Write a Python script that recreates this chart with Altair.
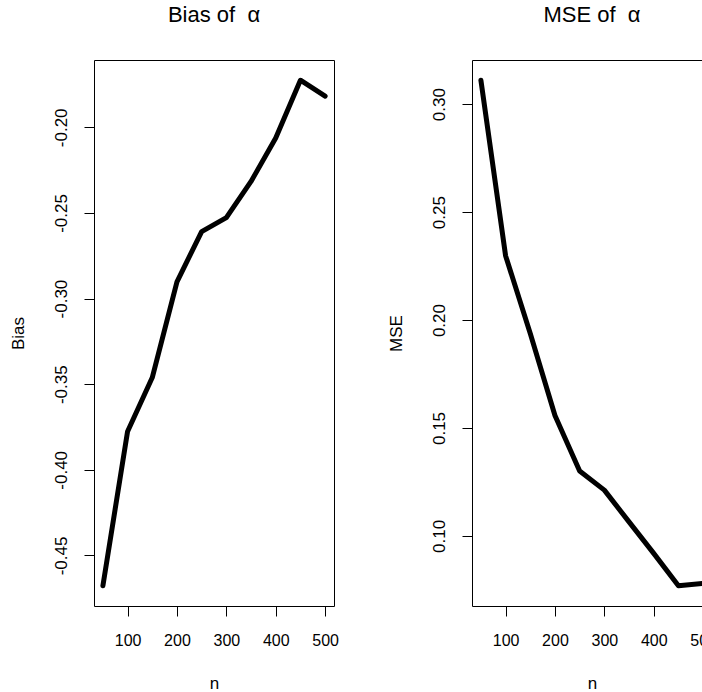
import altair as alt
import pandas as pd

# ---- data ----
n_values = [50, 100, 150, 200, 250, 300, 350, 400, 450, 500]
bias_values = [-0.4677, -0.3776, -0.3461, -0.2902, -0.2609, -0.2527, -0.2316, -0.2062, -0.1725, -0.1818]
mse_values = [0.3111, 0.2298, 0.1938, 0.1558, 0.1301, 0.1212, 0.1065, 0.0919, 0.0769, 0.0780]

x_ticks = [100, 200, 300, 400, 500]
bias_ticks = [-0.45, -0.40, -0.35, -0.30, -0.25, -0.20]
mse_ticks = [0.10, 0.15, 0.20, 0.25, 0.30]

FONT = "Liberation Sans"


def r_range(v):
    lo, hi = min(v), max(v)
    d = (hi - lo) * 0.04
    return [lo - d, hi + d]


df = pd.DataFrame({"n": n_values, "bias": bias_values, "mse": mse_values})


def panel(field, vals, title, ytitle, yticks):
    x = alt.X(
        "n:Q",
        scale=alt.Scale(domain=r_range(n_values), nice=False, zero=False),
        axis=alt.Axis(
            values=x_ticks, title="n", domain=False, grid=False,
            ticks=True, tickSize=10, tickColor="black", tickWidth=1,
            labelPadding=16, labelFontSize=16, labelFont=FONT, labelColor="black",
            labelFlush=False, labelOverlap=False,
            titleFontSize=17, titleFont=FONT, titleFontWeight="normal", titleColor="black",
            minExtent=40, maxExtent=40, titlePadding=29,
        ),
    )
    y = alt.Y(
        f"{field}:Q",
        scale=alt.Scale(domain=r_range(vals), nice=False, zero=False),
        axis=alt.Axis(
            values=yticks, title=ytitle, domain=False, grid=False,
            labelExpr="replace(format(datum.value, '.2f'), '\u2212', '-')",
            ticks=True, tickSize=10, tickColor="black", tickWidth=1,
            labelAngle=270, labelAlign="center", labelBaseline="bottom",
            labelPadding=14, labelFontSize=17, labelFont=FONT, labelColor="black",
            labelFlush=False, labelOverlap=False,
            titleFontSize=17, titleFont=FONT, titleFontWeight="normal", titleColor="black",
            minExtent=40, maxExtent=40, titlePadding=27,
        ),
    )
    return (
        alt.Chart(
            df,
            title=alt.Title(title, fontSize=22, fontWeight="normal", font=FONT,
                            color="black", offset=33, anchor="middle"),
        )
        .mark_line(color="black", strokeWidth=5, strokeCap="round", strokeJoin="round")
        .encode(x=x, y=y)
        .properties(width=240, height=546)
    )


left = panel("bias", bias_values, "Bias of\u00a0\u00a0\u03b1", "Bias", bias_ticks)
right = panel("mse", mse_values, "MSE of\u00a0\u00a0\u03b1", "MSE", mse_ticks)

chart = (
    alt.hconcat(left, right, spacing=47)
    .properties(
        background="white",
        autosize=alt.AutoSizeParams(type="none"),
        padding={"left": 94, "top": 60, "right": 608, "bottom": 632},
    )
    .configure_view(stroke="black", strokeWidth=1)
)

chart.save("out.html", embed_options={"renderer": "svg", "actions": False})
